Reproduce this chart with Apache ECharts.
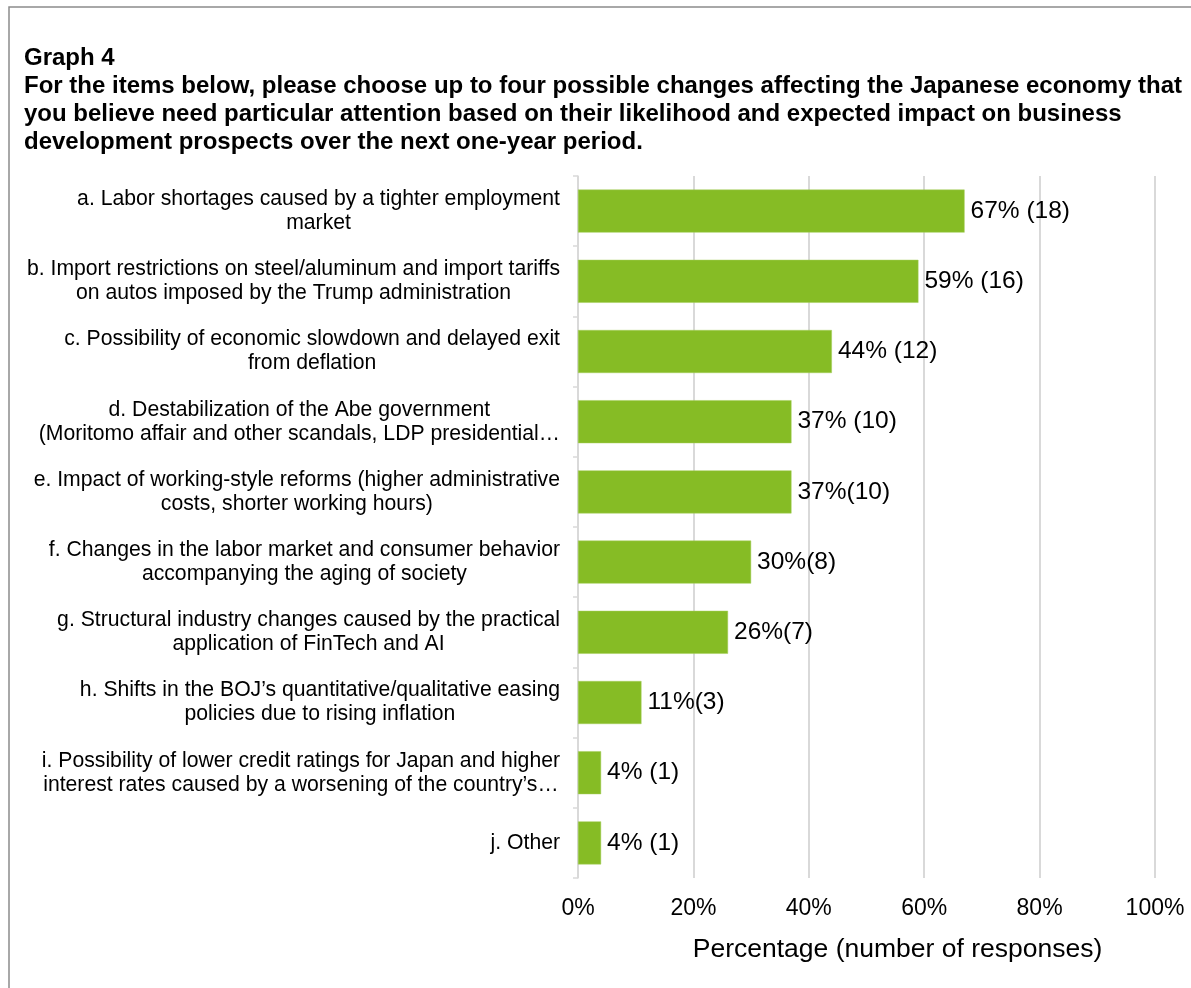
<!DOCTYPE html>
<html>
<head>
<meta charset="utf-8">
<style>
  html, body { margin: 0; padding: 0; background: #ffffff; }
  #chart { width: 1191px; height: 988px; }
</style>
<script src="https://cdn.jsdelivr.net/npm/echarts@6/dist/echarts.min.js"></script>
</head>
<body>
<div id="chart"></div>
<script>
// Survey items (top to bottom)
const categories = [
  'a. Labor shortages caused by a tighter employment\nmarket',
  'b. Import restrictions on steel/aluminum and import tariffs\non autos imposed by the Trump administration',
  'c. Possibility of economic slowdown and delayed exit\nfrom deflation',
  'd. Destabilization of the Abe government\n(Moritomo affair and other scandals, LDP presidential\u2026',
  'e. Impact of working-style reforms (higher administrative\ncosts, shorter working hours)',
  'f. Changes in the labor market and consumer behavior\naccompanying the aging of society',
  'g. Structural industry changes caused by the practical\napplication of FinTech and AI',
  'h. Shifts in the BOJ\u2019s quantitative/qualitative easing\npolicies due to rising inflation',
  'i. Possibility of lower credit ratings for Japan and higher\ninterest rates caused by a worsening of the country\u2019s\u2026',
  'j. Other'
];
// Share of respondents (%) and number of responses
const percentages = [67, 59, 44, 37, 37, 30, 26, 11, 4, 4];
const responses = [18, 16, 12, 10, 10, 8, 7, 3, 1, 1];
// Spacing between the percentage and the count in each value label
const labelSeparators = [' ', ' ', ' ', ' ', '', '', '', '', ' ', ' '];
// X axis tick values
const xTicks = [0, 20, 40, 60, 80, 100];

const FONT = '"Liberation Sans", Arial, sans-serif';

const chart = echarts.init(document.getElementById('chart'), null, { renderer: 'canvas' });

chart.setOption({
  backgroundColor: '#ffffff',
  animation: false,
  textStyle: { fontFamily: FONT },
  graphic: [{
    // frame around the figure (open to the right and bottom edges)
    type: 'rect',
    shape: { x: 9, y: 7, width: 1300, height: 1100 },
    style: { fill: 'none', stroke: '#8c8c8c', lineWidth: 1.5 },
    silent: true,
    z: -1
  }],
  title: {
    left: 24,
    top: 44,
    padding: 0,
    text: 'Graph 4\nFor the items below, please choose up to four possible changes affecting the Japanese economy that\nyou believe need particular attention based on their likelihood and expected impact on business\ndevelopment prospects over the next one-year period.',
    textStyle: {
      fontFamily: FONT,
      fontSize: 24,
      fontWeight: 'bold',
      color: '#000000',
      lineHeight: 28
    }
  },
  grid: {
    left: 578,
    right: 36,
    top: 176,
    bottom: 110,
    containLabel: false
  },
  xAxis: {
    type: 'value',
    min: xTicks[0],
    max: xTicks[xTicks.length - 1],
    interval: xTicks[1] - xTicks[0],
    axisLine: { show: false },
    axisTick: { show: false },
    splitLine: { show: true, lineStyle: { color: '#d9d9d9', width: 2 } },
    axisLabel: {
      formatter: v => v + '%',
      fontFamily: FONT,
      fontSize: 23,
      color: '#000000',
      margin: 19
    },
    name: 'Percentage (number of responses)',
    nameLocation: 'middle',
    nameGap: 58,
    nameTextStyle: {
      fontFamily: FONT,
      fontSize: 26.5,
      color: '#000000',
      padding: [0, 0, 0, 62]
    }
  },
  yAxis: {
    type: 'category',
    inverse: true,
    data: categories,
    axisLine: { show: true, lineStyle: { color: '#d9d9d9', width: 1.5 } },
    axisTick: { show: true, length: 5, lineStyle: { color: '#d9d9d9', width: 1.5 } },
    splitLine: { show: false },
    axisLabel: {
      margin: 18,
      align: 'right',
      fontFamily: FONT,
      fontSize: 21.2,
      color: '#000000',
      lineHeight: 24,
      formatter: v => v.split('\n').map(line => '{c|' + line + '}').join('\n'),
      rich: {
        c: {
          align: 'center',
          fontFamily: FONT,
          fontSize: 21.2,
          color: '#000000',
          lineHeight: 24
        }
      }
    }
  },
  series: [{
    type: 'bar',
    data: percentages,
    barWidth: 43,
    itemStyle: { color: '#86bc25', borderColor: '#a4cf5a', borderWidth: 0.5 },
    label: {
      show: true,
      position: 'right',
      distance: 6,
      fontFamily: FONT,
      fontSize: 24.5,
      color: '#000000',
      formatter: p => percentages[p.dataIndex] + '%' + labelSeparators[p.dataIndex] + '(' + responses[p.dataIndex] + ')'
    }
  }]
});
</script>
</body>
</html>
